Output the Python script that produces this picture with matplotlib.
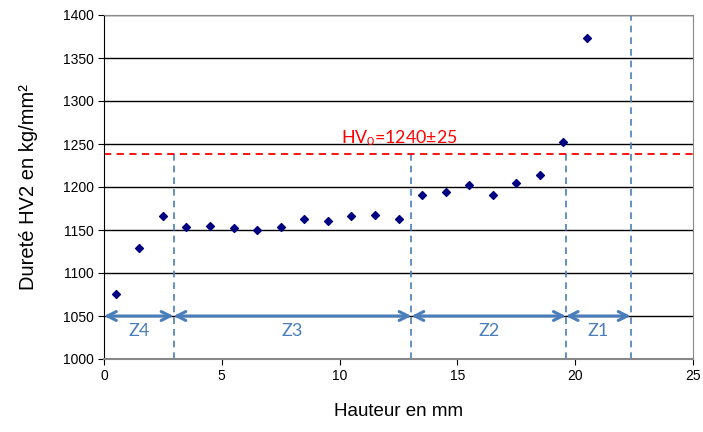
import numpy as np
import matplotlib
matplotlib.use("Agg")
import matplotlib.pyplot as plt

# Données de dureté mesurées
hauteur = [0.5, 1.5, 2.5, 3.5, 4.5, 5.5, 6.5, 7.5, 8.5, 9.5, 10.5,
           11.5, 12.5, 13.5, 14.5, 15.5, 16.5, 17.5, 18.5, 19.5, 20.5]
durete = [1076, 1129, 1166, 1153, 1155, 1152, 1150, 1153, 1163, 1160, 1166,
          1167, 1163, 1191, 1194, 1202, 1191, 1205, 1214, 1252, 1373]

hv0 = 1238
limites = [0, 2.95, 13.05, 19.6, 22.35]
zones = ["Z4", "Z3", "Z2", "Z1"]

plt.rcParams['font.family'] = ['Liberation Sans', 'DejaVu Sans']
plt.rcParams['mathtext.default'] = 'regular'

fig = plt.figure(figsize=(7.03, 4.32), dpi=100)
ax = fig.add_axes([104 / 703, 1 - 359 / 432, 589 / 703, 344 / 432])

ax.set_xlim(0, 25)
ax.set_ylim(1000, 1400)
ax.set_xticks(np.arange(0, 26, 5))
ax.set_yticks(np.arange(1000, 1401, 50))
ax.grid(True, axis='y', color='black', linewidth=1)
ax.set_axisbelow(True)
for s in ['top', 'right']:
    ax.spines[s].set_color('#888888')
ax.spines['left'].set_color('black')
ax.spines['bottom'].set_color('#888888')
ax.spines['bottom'].set_linewidth(1.5)
ax.tick_params(labelsize=10, length=4, direction='out')

bleu = '#4a7ebb'
police = ['Lato', 'DejaVu Sans']
# Lignes de séparation des zones
for x in limites[1:4]:
    ax.plot([x, x], [1000, hv0], color=bleu, linestyle='--', linewidth=1.2, dashes=(4, 3))
ax.plot([limites[4], limites[4]], [1000, 1400], color=bleu, linestyle='--', linewidth=1.2, dashes=(4, 3))

ax.axhline(hv0, color='red', linestyle='--', linewidth=1.3, dashes=(4, 3))
ax.text(10.05, 1251, "HV$_0$=1240±25", color='red', fontsize=12.8, family=police)

# Flèches des zones
for i, z in enumerate(zones):
    a, b = limites[i], limites[i + 1]
    ax.annotate("", xy=(b, 1050), xytext=(a, 1050),
                arrowprops=dict(arrowstyle='<->', color=bleu, lw=2.2,
                                shrinkA=0, shrinkB=0, mutation_scale=16))
    ax.text((a + b) / 2, 1033, z, color=bleu, fontsize=13, ha='center', va='center',
            family=police)

ax.scatter(hauteur, durete, marker='D', s=16, color='#000080', zorder=5)

ax.set_xlabel("Hauteur en mm", fontsize=13.5, labelpad=14)
ax.set_ylabel("Dureté HV2 en kg/mm²", fontsize=14.5, labelpad=18)

fig.savefig("out.png", dpi=100)
